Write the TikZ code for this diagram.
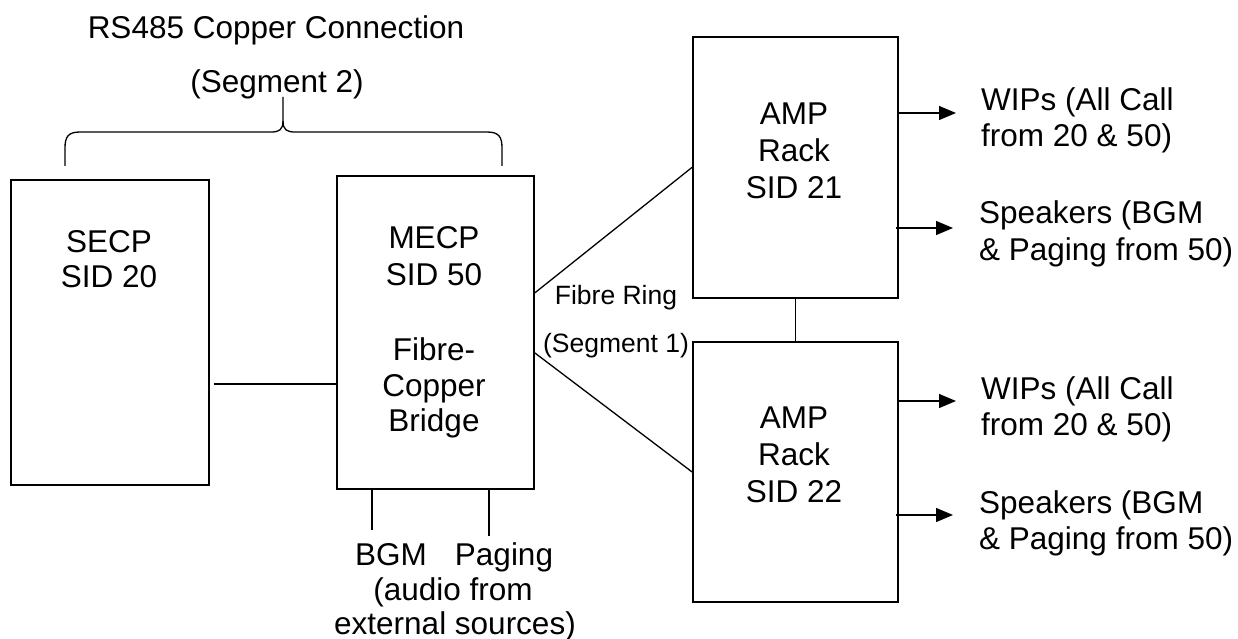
\documentclass[tikz,border=0pt]{standalone}
\usepackage{fontspec}
\setmainfont{Liberation Sans}
\usetikzlibrary{arrows.meta}
\tikzset{
  box/.style={draw, line width=1.8pt, inner sep=0pt, anchor=north west},
  txt/.style={font=\fontsize{31.5}{36}\selectfont, inner sep=0pt, anchor=base},
  txtl/.style={txt, anchor=base west},
  small/.style={font=\fontsize{26.5}{30}\selectfont, inner sep=0pt, anchor=base},
  wire/.style={line width=1.3pt},
  arr/.style={line width=1.3pt, -{Triangle[length=17pt,width=14pt]}},
}
\begin{document}
\begin{tikzpicture}[x=1pt,y=-1pt]
\useasboundingbox (0,0) rectangle (1238,639);
% header
\node[txt] (hdr1) at (276,39) {RS485 Copper Connection};
\node[txt] (hdr2) at (277,93) {(Segment 2)};
\draw[wire] (65,166) -- (65,148) .. controls (65,137) and (68,132) .. (80,132)
  -- (271,132) .. controls (279,132) and (283,130) .. (283,121) -- (283,97);
\draw[wire] (283,121) .. controls (283,130) and (287,132) .. (295,132)
  -- (487,132) .. controls (499,132) and (502,137) .. (502,148) -- (502,166);
% boxes
\node[box, minimum width=198pt, minimum height=305pt] (secp) at (10,179) {};
\node[box, minimum width=197pt, minimum height=313pt] (mecp) at (336,175) {};
\node[box, minimum width=205pt, minimum height=261pt] (amp21) at (692,36) {};
\node[box, minimum width=205pt, minimum height=260pt] (amp22) at (692,341) {};
% box texts
\node[txt] (t1) at (109,252) {SECP};
\node[txt] (t2) at (109,287) {SID 20};
\node[txt] (t3) at (434,248) {MECP};
\node[txt] (t4) at (434,285) {SID 50};
\node[txt] (t5) at (434,360) {Fibre-};
\node[txt] (t6) at (434,396) {Copper};
\node[txt] (t7) at (434,431) {Bridge};
\node[txt] (t8) at (794,125) {AMP};
\node[txt] (t9) at (794,162) {Rack};
\node[txt] (t10) at (794,198) {SID 21};
\node[txt] (t11) at (794,428) {AMP};
\node[txt] (t12) at (794,465) {Rack};
\node[txt] (t13) at (794,502) {SID 22};
% fibre labels
\node[small] (fr1) at (616,304) {Fibre Ring};
\node[small] (fr2) at (616,352) {(Segment 1)};
% connectors
\draw[wire] ([xshift=4pt,yshift=-51.5pt]secp.east) -- ([yshift=-51.5pt]mecp.east -| mecp.west);
\draw[wire] ([yshift=39.5pt]mecp.east) -- (amp21.west);
\draw[wire] ([yshift=-20.5pt]mecp.east) -- (amp22.west);
\draw[wire] (amp21.south) -- (amp22.north);
\coordinate (bgmend) at (372,530);
\coordinate (pagend) at (489,536);
\draw[wire] (mecp.south -| bgmend) -- (bgmend);
\draw[wire] (mecp.south -| pagend) -- (pagend);
% bottom texts
\node[txt] (bgm) at (391,565) {BGM};
\node[txt] (pag) at (504,565) {Paging};
\node[txt] (aud1) at (453,600) {(audio from};
\node[txt] (aud2) at (455,634) {external sources)};
% arrows
\coordinate (w1) at (956,113);
\coordinate (s1) at (953,228);
\coordinate (w2) at (956,401);
\coordinate (s2) at (953,515);
\draw[arr] (amp21.east |- w1) -- (w1);
\draw[arr] ([xshift=-3pt]amp21.east |- s1) -- (s1);
\draw[arr] (amp22.east |- w2) -- (w2);
\draw[arr] ([xshift=-3pt]amp22.east |- s2) -- (s2);
% right texts
\node[txtl] (r1) at (981,111) {WIPs (All Call};
\node[txtl] (r2) at (981,147) {from 20 \& 50)};
\node[txtl] (r3) at (979,223) {Speakers (BGM};
\node[txtl] (r4) at (979,260) {\& Paging from 50)};
\node[txtl] (r5) at (981,399) {WIPs (All Call};
\node[txtl] (r6) at (981,435) {from 20 \& 50)};
\node[txtl] (r7) at (979,513) {Speakers (BGM};
\node[txtl] (r8) at (979,549) {\& Paging from 50)};
\end{tikzpicture}
\end{document}
